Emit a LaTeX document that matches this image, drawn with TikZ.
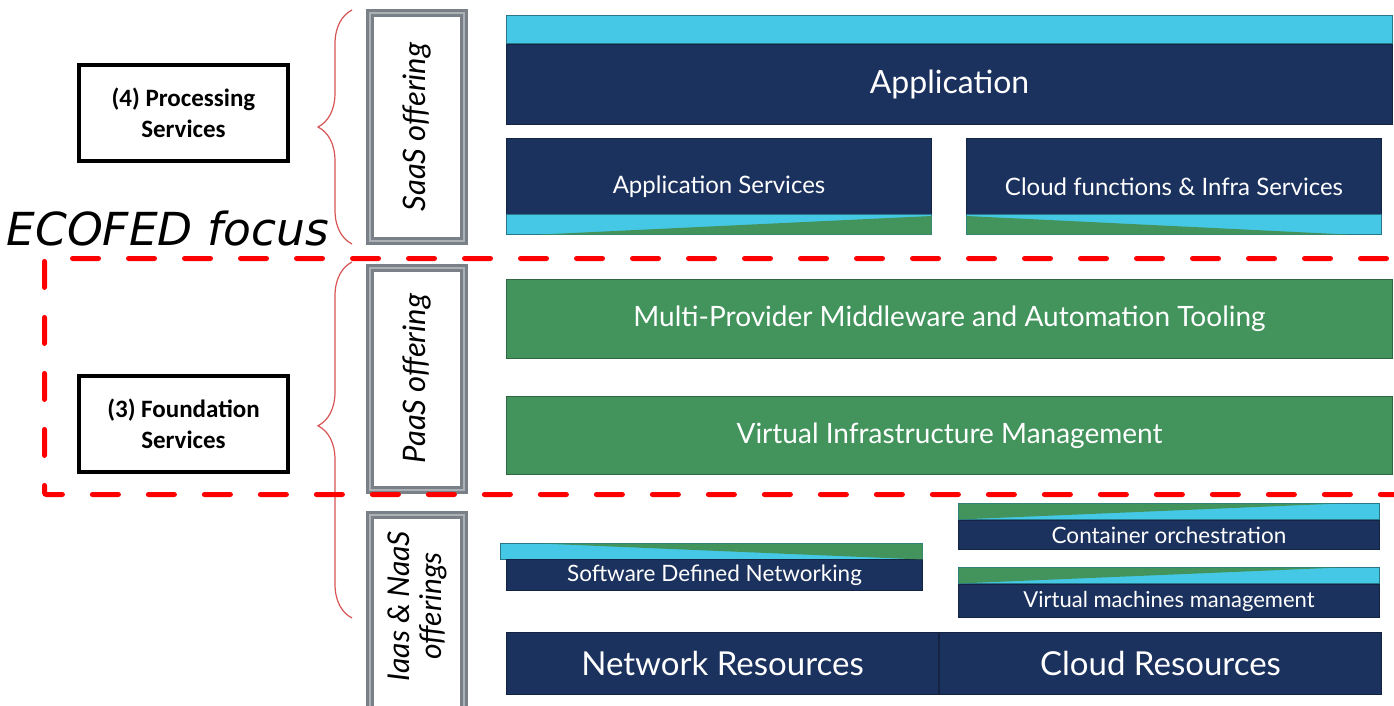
\documentclass[tikz,border=0pt]{standalone}
\usepackage{fontspec}
\usetikzlibrary{positioning,decorations.pathreplacing}
\newfontfamily\boxfont{Lato}
\newfontfamily\svcfont{Carlito}
\newfontfamily\focusfont{DejaVu Sans}
\definecolor{navy}{RGB}{28,50,94}
\definecolor{barcyan}{RGB}{69,200,230}
\definecolor{paasgreen}{RGB}{67,148,92}
\definecolor{framegray}{RGB}{122,128,135}
\definecolor{framelight}{RGB}{172,177,182}
\definecolor{bracered}{RGB}{214,84,84}

\begin{document}
\begin{tikzpicture}[x=1pt,y=-1pt,
	layerbox/.style={fill=navy,draw=navy!70!black,line width=1pt,inner sep=0pt,text=white,anchor=north west,font=\boxfont\fontsize{24}{26}\selectfont},
	greenbox/.style={layerbox,fill=paasgreen,draw=paasgreen!70!black,font=\boxfont\fontsize{28}{30}\selectfont},
	stripbar/.style={fill=barcyan,draw=barcyan!60!black,line width=1pt,inner sep=0pt},
	offerbox/.style={draw=framegray,double=framelight,line width=3pt,double distance=2pt,fill=white,inner sep=0pt,minimum width=94pt,anchor=north west},
	offertext/.style={rotate=90,align=center,font=\boxfont\itshape\fontsize{31}{31}\selectfont},
	svcbox/.style={draw=black,line width=4pt,inner sep=0pt,minimum width=209pt,minimum height=96pt,align=center,font=\svcfont\bfseries\fontsize{25}{31}\selectfont},
	redbrace/.style={draw=bracered,line width=1.2pt,decorate,decoration={brace,amplitude=34pt}},
	focusbox/.style={draw=red,line width=5pt,dash pattern=on 26pt off 30pt,line cap=round,rounded corners=2pt,inner sep=0pt,anchor=north west}]
	\useasboundingbox (0,0) rectangle (1394,706);
	\clip (0,0) rectangle (1394,706);

	% service boxes on the left
	\node[svcbox]	(proc)	at (183.5,113)	{(4) Processing\\Services};
	\node[svcbox]	(found)	at (183.5,424)	{(3) Foundation\\Services};

	% offerings
	\node[offerbox,minimum height=227pt]	(saas)	at (368,12)		{};
	\node[offerbox,minimum height=222pt]	(paas)	at (368,266)	{};
	\node[offerbox,minimum height=207pt]	(iaas)	at (368,513)	{};
	\node[offertext]	(saastext)	at (saas)			{SaaS offering};
	\node[offertext]	(paastext)	at (paas)			{PaaS offering};
	\node[offertext,font=\boxfont\itshape\fontsize{30}{32}\selectfont]	(iaastext)	at (417,606)	{Iaas \& NaaS\\offerings};

	\draw[redbrace] ([xshift=-16pt,yshift=-2pt]saas.south west) -- ([xshift=-16pt,yshift=2pt]saas.north west);
	\draw[redbrace,decoration={aspect=0.54}] ([xshift=-16pt]iaas.west) -- ([xshift=-16pt,yshift=4pt]paas.north west);

	% SaaS layer
	\node[stripbar,anchor=north west,minimum width=886pt,minimum height=28pt]		(appbar)	at (506,15)				{};
	\node[layerbox,minimum width=886pt,minimum height=80pt,font=\boxfont\fontsize{32}{34}\selectfont]	(app)	at (appbar.south west)	{Application};

	\node[layerbox,minimum width=425pt,minimum height=96pt]	(appsvc)	at (506,138)	{Application Services};
	\node[layerbox,minimum width=415pt,minimum height=96pt,right=34pt of appsvc]	(cloudfn)	{Cloud functions \& Infra Services};
	\node[stripbar,anchor=south west,minimum width=425pt,minimum height=20pt]	(appsvcbar)	at (appsvc.south west)	{};
	\node[stripbar,anchor=south west,minimum width=415pt,minimum height=20pt]	(cloudfnbar)	at (cloudfn.south west)	{};
	\fill[paasgreen] ([xshift=35pt,yshift=0.5pt]appsvcbar.south west) -- ([xshift=-0.5pt,yshift=0.5pt]appsvcbar.south east) -- ([xshift=-0.5pt,yshift=-2pt]appsvcbar.north east) -- cycle;
	\fill[paasgreen] ([xshift=0.5pt,yshift=-2pt]cloudfnbar.north west) -- ([xshift=0.5pt,yshift=0.5pt]cloudfnbar.south west) -- ([xshift=-35pt,yshift=0.5pt]cloudfnbar.south east) -- cycle;

	% PaaS layer
	\node[greenbox,minimum width=886pt,minimum height=79pt]	(mpm)	at (506,279)	{Multi-Provider Middleware and Automation Tooling};
	\node[greenbox,minimum width=886pt,minimum height=78pt,below=37pt of mpm.south west,anchor=north west]	(vim)	{Virtual Infrastructure Management};

	% IaaS and NaaS layer
	\node[stripbar,anchor=north west,minimum width=422pt,minimum height=16pt]	(sdnbar)	at (500,543)	{};
	\node[layerbox,minimum width=416pt,minimum height=31pt,font=\boxfont\fontsize{22.5}{24}\selectfont]	(sdn)	at (506,559)	{Software Defined Networking};
	\fill[paasgreen] ([xshift=40pt,yshift=-0.5pt]sdnbar.north west) -- ([xshift=-0.5pt,yshift=-0.5pt]sdnbar.north east) -- ([xshift=-0.5pt,yshift=0.5pt]sdnbar.south east) -- cycle;

	\node[stripbar,anchor=north west,minimum width=421pt,minimum height=16pt]	(contbar)	at (958,503)	{};
	\node[layerbox,minimum width=421pt,minimum height=29pt,font=\boxfont\fontsize{22.5}{24}\selectfont]	(cont)	at (contbar.south west)	{Container orchestration};
	\fill[paasgreen] ([xshift=0.5pt,yshift=-0.5pt]contbar.north west) -- ([xshift=-40pt,yshift=-0.5pt]contbar.north east) -- ([xshift=0.5pt,yshift=0.5pt]contbar.south west) -- cycle;

	\node[stripbar,anchor=north west,minimum width=421pt,minimum height=16pt]	(vmbar)	at (958,567)	{};
	\node[layerbox,minimum width=421pt,minimum height=33pt,font=\boxfont\fontsize{22}{24}\selectfont]	(vm)	at (vmbar.south west)	{Virtual machines management};
	\fill[paasgreen] ([xshift=0.5pt,yshift=-0.5pt]vmbar.north west) -- ([xshift=-40pt,yshift=-0.5pt]vmbar.north east) -- ([xshift=0.5pt,yshift=0.5pt]vmbar.south west) -- cycle;

	\node[layerbox,minimum width=432pt,minimum height=62pt,font=\boxfont\fontsize{33}{35}\selectfont]	(netres)	at (506,632)	{Network Resources};
	\node[layerbox,minimum width=442pt,minimum height=62pt,font=\boxfont\fontsize{33}{35}\selectfont,right=0pt of netres]	(cloudres)	{Cloud Resources};

	% focus area
	\node[focusbox,minimum width=1400pt,minimum height=236pt]	(focus)	at (42,256)	{};
	\node[font=\focusfont\itshape\fontsize{45.5}{46}\selectfont,anchor=base east,inner sep=0pt]	(focuslabel)	at (329,245)	{ECOFED focus};
\end{tikzpicture}
\end{document}
